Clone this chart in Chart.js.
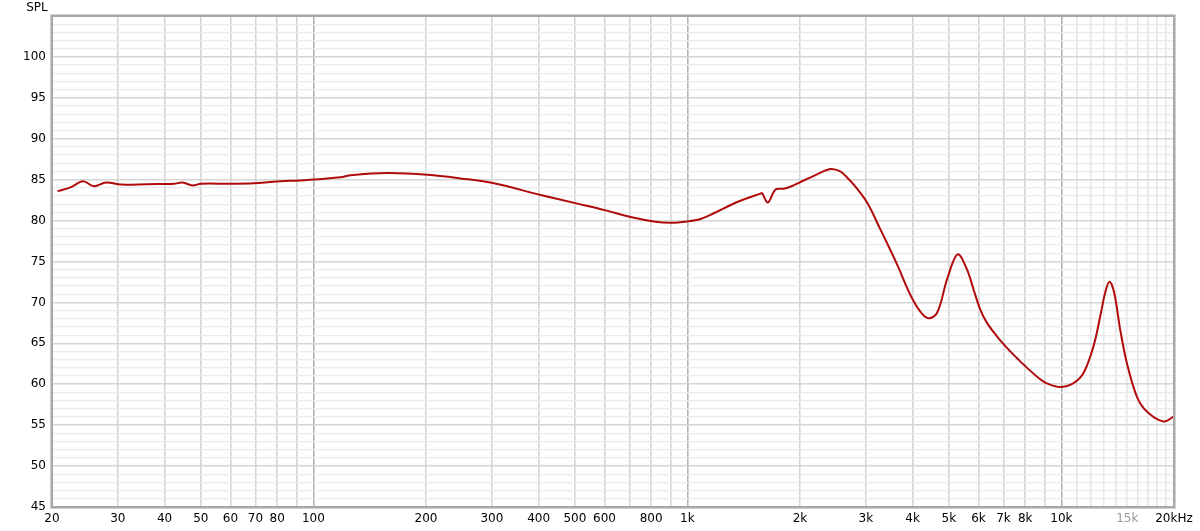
<!DOCTYPE html>
<html>
<head>
<meta charset="utf-8">
<script src="https://cdn.jsdelivr.net/npm/chart.js@4/dist/chart.umd.min.js"></script>
<style>
html,body{margin:0;padding:0;background:#fff;}
#wrap{width:1200px;height:531px;position:relative;}
</style>
</head>
<body>
<div id="wrap"><canvas id="c" width="1200" height="531"></canvas></div>
<script>
// Frequency (Hz) and SPL (dB)
const freqs = [20.7, 22.4, 24.2, 25.9, 27.9, 30.6, 36, 42.4, 44.7, 47.5, 50, 60, 69.3, 78.4, 96.4, 118.3, 125.8, 157.7, 201.7, 247.5, 303.9, 405, 507.7, 604.2, 704.7, 813, 901, 998.6, 1084, 1176, 1359, 1568, 1584, 1640, 1720, 1809, 1900, 2004, 2200, 2412, 2564, 2672, 2784, 3022, 3280, 3488, 3635, 4026, 4372, 4648, 4944, 5278, 5590, 5822, 6068, 6324, 6724, 7150, 7604, 7920, 8776, 9146, 9926, 10770, 11456, 12180, 12700, 13090, 13440, 13840, 14360, 14960, 15910, 16920, 18740, 20000];
const spl   = [83.6, 84.05, 84.8, 84.2, 84.65, 84.4, 84.45, 84.5, 84.65, 84.3, 84.5, 84.5, 84.55, 84.75, 84.97, 85.3, 85.55, 85.8, 85.6, 85.15, 84.56, 83.13, 82.07, 81.25, 80.44, 79.9, 79.75, 79.9, 80.2, 80.9, 82.27, 83.3, 83.35, 82.2, 83.8, 83.9, 84.2, 84.7, 85.55, 86.3, 86.0, 85.26, 84.4, 82.2, 78.93, 76.4, 74.64, 70.15, 68.1, 68.7, 72.8, 75.87, 74.03, 71.58, 69.13, 67.5, 65.86, 64.44, 63.2, 62.4, 60.6, 60.1, 59.66, 60.15, 61.38, 64.63, 68.3, 71.18, 72.52, 71.18, 66.68, 62.6, 58.5, 56.67, 55.45, 56.06];

// Grid/tick positions and labels
const xGrid = [20,30,40,50,60,70,80,90,100,200,300,400,500,600,700,800,900,1000,2000,3000,4000,5000,6000,7000,8000,9000,10000,11000,12000,13000,14000,15000,16000,17000,18000,19000,20000];
const xLabels = {20:'20',30:'30',40:'40',50:'50',60:'60',70:'70',80:'80',100:'100',200:'200',300:'300',400:'400',500:'500',600:'600',800:'800',1000:'1k',2000:'2k',3000:'3k',4000:'4k',5000:'5k',6000:'6k',7000:'7k',8000:'8k',10000:'10k',15000:'15k',20000:'20kHz'};
const yMin = 45, yMax = 105;
const yLabels = [45,50,55,60,65,70,75,80,85,90,95,100];
const yTitle = 'SPL';

const FONT = 'DejaVu Sans';

const framePlugin = {
  id: 'frame',
  afterDraw(chart) {
    const {ctx, chartArea: a} = chart;
    ctx.save();
    ctx.strokeStyle = '#d0d0d0';
    ctx.lineWidth = 1;
    ctx.strokeRect(a.left - 1.5, a.top - 1.5, a.right - a.left + 3, a.bottom - a.top + 3);
    ctx.strokeStyle = '#a8a8a8';
    ctx.lineWidth = 2;
    ctx.strokeRect(a.left, a.top, a.right - a.left, a.bottom - a.top);
    ctx.fillStyle = '#000';
    ctx.font = '12px ' + FONT;
    ctx.textAlign = 'center';
    ctx.textBaseline = 'middle';
    ctx.fillText(yTitle, 37, 8);
    ctx.restore();
  }
};

const line = new Chart(document.getElementById('c'), {
  type: 'line',
  data: {
    datasets: [{
      data: freqs.map((f, i) => ({x: f, y: spl[i]})),
      borderColor: '#b00a0a',
      borderWidth: 2,
      pointRadius: 0,
      tension: 0.35,
      fill: false
    }]
  },
  options: {
    responsive: false,
    animation: false,
    events: [],
    layout: {padding: {left: 0, top: 16, right: 26, bottom: 0}},
    plugins: {legend: {display: false}, tooltip: {enabled: false}},
    scales: {
      x: {
        type: 'logarithmic',
        min: 20, max: 20000,
        afterBuildTicks(s) { s.ticks = xGrid.map(v => ({value: v})); },
        afterFit(s) { s.height = 24; },
        border: {display: false},
        grid: {
          drawTicks: false,
          color(ctx) {
            const v = ctx.tick && ctx.tick.value;
            if (v === 100 || v === 1000 || v === 10000) return '#b4b4b4';
            if (v > 10000) return '#e6e6e6';
            return '#d6d6d6';
          },
          lineWidth: 1.6
        },
        ticks: {
          autoSkip: false, maxRotation: 0, minRotation: 0,
          padding: 5,
          font: {family: FONT, size: 12},
          color(ctx) { return ctx.tick && ctx.tick.value === 15000 ? '#9a9a9a' : '#000'; },
          callback(v) { return xLabels[v] || ''; }
        }
      },
      y: {
        type: 'linear',
        min: yMin, max: yMax,
        afterBuildTicks(s) {
          const t = [];
          for (let v = yMin; v <= yMax; v++) t.push({value: v});
          s.ticks = t;
        },
        afterFit(s) { s.width = 52; },
        border: {display: false},
        grid: {
          drawTicks: false,
          color(ctx) {
            const v = ctx.tick && ctx.tick.value;
            return v % 5 === 0 ? '#d6d6d6' : '#ebebeb';
          },
          lineWidth(ctx) {
            const v = ctx.tick && ctx.tick.value;
            return v % 5 === 0 ? 1.6 : 1.3;
          }
        },
        ticks: {
          autoSkip: false,
          padding: 6,
          font: {family: FONT, size: 12},
          color: '#000',
          callback(v) { return yLabels.includes(v) ? String(v) : ''; }
        }
      }
    }
  },
  plugins: [framePlugin]
});
</script>
</body>
</html>
